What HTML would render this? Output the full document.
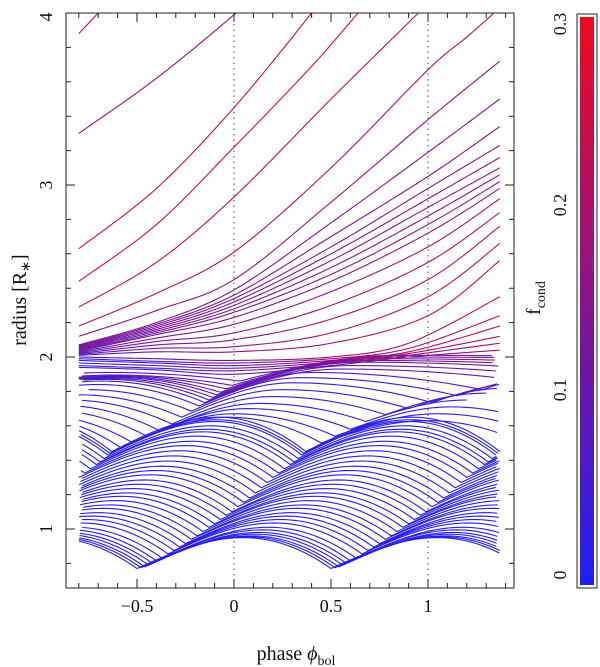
<!DOCTYPE html>
<html><head><meta charset="utf-8"><style>
html,body{margin:0;padding:0;background:#fff;}
svg{display:block;font-family:"Liberation Serif",serif;}
</style></head><body>
<svg id="chart" width="600" height="667" viewBox="0 0 600 667">
<defs>
<clipPath id="plotclip"><rect x="66" y="13" width="448" height="575"/></clipPath>
<linearGradient id="cbar" x1="0" y1="1" x2="0" y2="0"><stop offset="0" stop-color="rgb(30,30,250)"/><stop offset="0.5" stop-color="rgb(135,20,140)"/><stop offset="1" stop-color="rgb(240,10,30)"/></linearGradient>
</defs>
<g id="lines" clip-path="url(#plotclip)"></g>
<g id="axes"></g>
</svg>
<script>
// ---------- data ----------
// inner shells: hit phase on shock, hit radius, peak radius (periodic, period 1)
const innerHitPhase=[-0.5,-0.48,-0.46,-0.44,-0.42,-0.40,-0.37,-0.34,-0.31,-0.28,-0.25,-0.22,-0.19,-0.16,-0.13,-0.10,-0.07,-0.04,-0.01,0.02,0.05,0.08,0.11,0.14,0.17,0.20,0.23,0.26,0.29,0.31,0.33,0.35,0.36,0.37];
const innerHitR=[0.77,0.775,0.78,0.79,0.80,0.815,0.83,0.855,0.875,0.895,0.915,0.94,0.96,0.985,1.01,1.03,1.055,1.08,1.10,1.13,1.155,1.18,1.21,1.24,1.27,1.30,1.325,1.35,1.375,1.39,1.41,1.43,1.44,1.45];
const innerPeakR=[0.95,0.955,0.96,0.97,0.98,0.995,1.01,1.035,1.055,1.075,1.095,1.12,1.14,1.165,1.19,1.21,1.235,1.26,1.285,1.315,1.34,1.365,1.395,1.425,1.455,1.485,1.51,1.54,1.565,1.58,1.60,1.625,1.635,1.65];
// mid shells: knots [phase, radius] alternating hits / peaks
const midKnots=[
[[-1.05,1.65],[-0.58,1.47],[-0.03,1.65],[0.45,1.5],[1.0,1.63],[1.45,1.52]],
[[-1.0,1.66],[-0.52,1.5],[0.0,1.67],[0.52,1.54],[1.05,1.67],[1.55,1.56]],
[[-0.95,1.69],[-0.45,1.54],[0.07,1.70],[0.6,1.58],[1.12,1.71],[1.6,1.6]],
[[-0.9,1.72],[-0.38,1.57],[0.13,1.73],[0.68,1.625],[1.2,1.75]],
[[-0.85,1.75],[-0.32,1.61],[0.2,1.77],[0.78,1.665],[1.3,1.79]],
[[-0.8,1.78],[-0.27,1.65],[0.25,1.81],[0.9,1.70],[1.42,1.82]],
[[-0.75,1.81],[-0.22,1.685],[0.3,1.85],[1.02,1.735],[1.55,1.86]],
[[-1.3,1.72],[-0.7,1.84],[-0.18,1.715],[0.35,1.88],[1.15,1.775],[1.7,1.9]],
[[-1.3,1.74],[-0.68,1.86],[-0.15,1.735],[0.4,1.91],[1.28,1.81],[1.8,1.93]],
[[-1.4,1.77],[-0.65,1.87],[-0.13,1.75],[0.55,1.93],[1.5,1.86]],
[[-1.4,1.775],[-0.63,1.875],[-0.11,1.765],[0.6,1.95],[1.55,1.9]],
[[-1.4,1.78],[-0.6,1.88],[-0.09,1.78],[0.65,1.97],[1.6,1.93]],
[[-1.4,1.785],[-0.6,1.885],[-0.07,1.795],[0.7,1.98],[1.65,1.95]],
[[-1.4,1.79],[-0.6,1.89],[-0.04,1.815],[0.75,1.99],[1.7,1.97]],
[[-1.4,1.795],[-0.62,1.895],[-0.01,1.835],[0.8,2.0],[1.8,1.99]],
[[-1.4,1.81],[-0.65,1.91],[0.03,1.86],[0.85,2.01],[1.9,2.0]]
];
const midFLeft=[0.02,0.02,0.02,0.02,0.03,0.03,0.03,0.04,0.04,0.06,0.06,0.07,0.07,0.07,0.07,0.07];
const midFRight=[0.03,0.03,0.03,0.03,0.04,0.05,0.06,0.07,0.08,0.12,0.12,0.13,0.13,0.14,0.14,0.14];
// outer shells: smooth knots
const outerKnots=[
[[-0.8,3.88],[-0.5,4.24]],
[[-0.8,3.30],[-0.4,3.62],[0,3.99],[0.2,4.2]],
[[-0.8,2.63],[-0.4,2.98],[0,3.45],[0.4,4.0],[0.6,4.3]],
[[-0.8,2.44],[-0.4,2.77],[0,3.22],[0.4,3.69],[0.64,4.0],[0.8,4.2]],
[[-0.8,2.29],[-0.4,2.55],[0,2.93],[0.5,3.5],[0.95,4.0],[1.1,4.17]],
[[-0.8,2.18],[-0.4,2.37],[0,2.61],[0.5,3.1],[1.0,3.67],[1.2,3.86],[1.34,4.0],[1.4,4.06]],
[[-0.8,2.12],[-0.4,2.27],[0,2.45],[0.5,2.9],[1.0,3.38],[1.37,3.72]]
];
const outerF=[0.2,0.16,0.27,0.27,0.26,0.21,0.16];
// band shells sampled at common phases
const bandPhase=[-0.8,-0.4,0,0.5,1.0,1.37];
const bandR=[
[2.07,2.2,2.39,2.78,3.19,3.50],
[2.065,2.19,2.36,2.7,3.05,3.34],
[2.06,2.18,2.34,2.64,2.98,3.23],
[2.055,2.17,2.32,2.6,2.92,3.16],
[2.05,2.16,2.30,2.56,2.87,3.10],
[2.045,2.15,2.28,2.52,2.82,3.06],
[2.04,2.14,2.26,2.48,2.77,3.02],
[2.035,2.13,2.23,2.44,2.72,2.98],
[2.03,2.11,2.19,2.38,2.64,2.92],
[2.025,2.09,2.14,2.3,2.55,2.84],
[2.02,2.07,2.1,2.22,2.45,2.76],
[2.015,2.05,2.06,2.14,2.35,2.66],
[2.01,2.03,2.03,2.08,2.24,2.56]
];
const bandFLeft=[0.13,0.13,0.12,0.12,0.12,0.11,0.11,0.11,0.1,0.1,0.09,0.09,0.08];
const bandFRight=[0.16,0.16,0.16,0.17,0.17,0.18,0.19,0.2,0.22,0.23,0.25,0.26,0.27];
// hovering shells sampled at own phases
const hoverPhase=[-0.8,-0.4,0,0.5,0.9,1.37];
const hoverR=[
[2.0,1.99,1.98,2.0,2.08,2.35],
[1.99,1.975,1.965,1.99,2.05,2.24],
[1.98,1.965,1.95,1.98,2.03,2.18],
[1.965,1.95,1.935,1.97,2.02,2.12],
[1.95,1.935,1.92,1.96,2.01,2.08],
[1.94,1.925,1.9,1.95,2.0,2.04]
];
const hoverFLeft=[0.04,0.04,0.04,0.04,0.04,0.04];
const hoverFRight=[0.27,0.26,0.24,0.22,0.2,0.17];

// ---------- scales ----------
const X=p=>234+194*p;
const Y=r=>701-172*r;
const P0=-0.8,P1=1.37;
function fcol(f){const t=Math.max(0,Math.min(1,f/0.3));
 return 'rgb('+Math.round(30+210*t)+','+Math.round(30-20*t)+','+Math.round(250-220*t)+')';}
const NS='http://www.w3.org/2000/svg';
const G=document.getElementById('lines');
let gid=0;
function mk(tag,attrs,parent){const e=document.createElementNS(NS,tag);for(const k in attrs)e.setAttribute(k,attrs[k]);(parent||G).appendChild(e);return e;}
function strokeFor(fl,fr){
 if(Math.abs(fl-fr)<0.005)return fcol(fl);
 const id='g'+(gid++);
 const defs=document.querySelector('defs');
 const lg=mk('linearGradient',{id:id,gradientUnits:'userSpaceOnUse',x1:X(P0),y1:0,x2:X(P1),y2:0},defs);
 mk('stop',{offset:0,'stop-color':fcol(fl)},lg);
 mk('stop',{offset:1,'stop-color':fcol(fr)},lg);
 return 'url(#'+id+')';
}
function clipPts(pts){return pts.filter(q=>q[0]>=P0-1e-6&&q[0]<=P1+1e-6);}
function ptsToD(pts){return pts.map((q,i)=>(i?'L':'M')+X(q[0]).toFixed(2)+','+Y(q[1]).toFixed(2)).join('');}
function ballistic(knots){const pts=[];const N=24;
 for(let i=0;i<knots.length-1;i++){const a=knots[i],b=knots[i+1];const rising=b[1]>a[1];
  for(let s=(i?1:0);s<=N;s++){const t=s/N;const f=rising?Math.sin(t*Math.PI/2):t*t;
   pts.push([a[0]+(b[0]-a[0])*t,a[1]+(b[1]-a[1])*f]);}}
 return pts;}
function smooth(knots){const pts=[];const N=20;const n=knots.length;
 if(n<3){return knots.slice();}
 for(let i=0;i<n-1;i++){const p0=knots[Math.max(0,i-1)],p1=knots[i],p2=knots[i+1],p3=knots[Math.min(n-1,i+2)];
  for(let s=(i?1:0);s<=N;s++){const t=s/N,t2=t*t,t3=t2*t;
   const c=(a,b,c2,d)=>0.5*((2*b)+(-a+c2)*t+(2*a-5*b+4*c2-d)*t2+(-a+3*b-3*c2+d)*t3);
   pts.push([c(p0[0],p1[0],p2[0],p3[0]),c(p0[1],p1[1],p2[1],p3[1])]);}}
 return pts;}
function addLine(pts,stroke,name){
 const el=mk('path',{d:ptsToD(clipPts(pts)),fill:'none',stroke:stroke,'stroke-width':1.1,'stroke-linejoin':'round'});
 
 
}
// inner shells
for(let i=0;i<innerHitPhase.length;i++){
 const h=innerHitPhase[i],rh=innerHitR[i],rp=innerPeakR[i];const knots=[];
 for(let k=-2;k<=2;k++){knots.push([h+k,rh]);knots.push([h+k+0.55,rp]);}
 addLine(ballistic(knots),fcol(0.01),'inner-shell-'+(i+1));
}
for(let i=0;i<midKnots.length;i++){addLine(ballistic(midKnots[i]),strokeFor(midFLeft[i],midFRight[i]),'mid-shell-'+(i+1));}
for(let i=0;i<hoverR.length;i++){addLine(smooth(hoverPhase.map((p,j)=>[p,hoverR[i][j]])),strokeFor(hoverFLeft[i],hoverFRight[i]),'hover-shell-'+(i+1));}
for(let i=0;i<bandR.length;i++){addLine(smooth(bandPhase.map((p,j)=>[p,bandR[i][j]])),strokeFor(bandFLeft[i],bandFRight[i]),'band-shell-'+(i+1));}
for(let i=0;i<outerKnots.length;i++){addLine(smooth(outerKnots[i]),fcol(outerF[i]),'outer-shell-'+(i+1));}

// ---------- axes ----------
const A=document.getElementById('axes');
function ax(tag,attrs,name,text){const e=mk(tag,attrs,A);
 
 
 if(text!==undefined)e.textContent=text;return e;}
ax('line',{x1:X(0),y1:13,x2:X(0),y2:588,stroke:'#444','stroke-width':1,'stroke-dasharray':'1.5,4'},'phase-zero-line');
ax('line',{x1:X(1),y1:13,x2:X(1),y2:588,stroke:'#444','stroke-width':1,'stroke-dasharray':'1.5,4'},'phase-one-line');
ax('rect',{x:66,y:13,width:448,height:575,fill:'none',stroke:'#222','stroke-width':1},'plot-frame');
let td='';
for(let i=-8;i<=14;i++){const p=i/10;const x=X(p);const major=(i%5===0);const L=major?9:5;
 td+='M'+x+',588v-'+L+'M'+x+',13v'+L;}
for(let i=4;i<=20;i++){const r=i/5;const y=Y(r);const major=(i%5===0);const L=major?9:5;
 td+='M66,'+y+'h'+L+'M514,'+y+'h-'+L;}
ax('path',{d:td,stroke:'#222','stroke-width':1,fill:'none'},'axis-ticks');
const xt=[[-0.5,'\u22120.5'],[0,'0'],[0.5,'0.5'],[1,'1']];
xt.forEach(t=>ax('text',{x:X(t[0]),y:612,'font-size':18,'text-anchor':'middle',fill:'#111'},'x-tick-label',t[1]));
[1,2,3,4].forEach(r=>{const y=r===4?Y(r)+4:Y(r);ax('text',{x:52,y:y,'font-size':18,'text-anchor':'middle',fill:'#111',transform:'rotate(-90 52 '+y+')'},'y-tick-label',String(r));});
const yl=ax('text',{x:26,y:300,'font-size':20,'text-anchor':'middle',fill:'#111',transform:'rotate(-90 26 300)'},'y-axis-title');
yl.innerHTML='radius [R<tspan font-size="13" dy="4">\u2217</tspan><tspan dy="-4">]</tspan>';
const xl=ax('text',{x:296,y:660,'font-size':20,'text-anchor':'middle',fill:'#111'},'x-axis-title');
xl.innerHTML='phase <tspan font-style="italic">\u03d5</tspan><tspan font-size="14" dy="5">bol</tspan>';
// colorbar
ax('rect',{x:577,y:14,width:20,height:574,fill:'#fff',stroke:'#222','stroke-width':1},'colorbar-frame');
ax('rect',{x:580,y:17,width:14,height:568,fill:'url(#cbar)'},'colorbar-gradient');
[[0,575,'0'],[0.1,390,'0.1'],[0.2,205,'0.2'],[0.3,24,'0.3']].forEach(t=>{
 ax('text',{x:566,y:t[1],'font-size':18,'text-anchor':'middle',fill:'#111',transform:'rotate(-90 566 '+t[1]+')'},'colorbar-tick-label',t[2]);});
const fl=ax('text',{x:540,y:298,'font-size':20,'text-anchor':'middle',fill:'#111',transform:'rotate(-90 540 298)'},'colorbar-title');
fl.innerHTML='f<tspan font-size="14" dy="5">cond</tspan>';
</script>
</body></html>
